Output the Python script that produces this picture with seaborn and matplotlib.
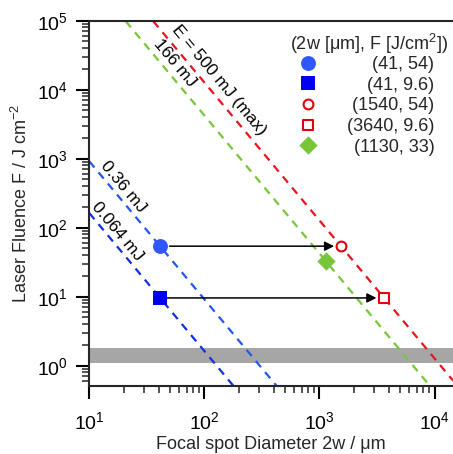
import numpy as np
import pandas as pd
import matplotlib
matplotlib.use("Agg")
import matplotlib.pyplot as plt
import seaborn as sns

# ---------------- data ----------------
energies_mJ = [500, 166, 0.36, 0.064]
energy_labels = ["E = 500 mJ (max)", "166 mJ", "0.36 mJ", "0.064 mJ"]
line_colors = ["#e8141c", "#77c63a", "#2457f0", "#1030e0"]

point_d = [41, 41, 1540, 3640, 1130]
point_F = [54, 9.6, 54, 9.6, 33]
point_labels = ["(41, 54)", "(41, 9.6)", "(1540, 54)", "(3640, 9.6)", "(1130, 33)"]
point_markers = ["o", "s", "o", "s", "D"]
point_face = ["#3057ff", "#0000f0", "white", "white", "#77c63a"]
point_edge = ["#3057ff", "#0000f0", "#e00010", "#e00010", "#77c63a"]
point_sizes = [115, 92, 50, 56, 88]
point_lw = [0, 0, 1.5, 1.5, 0]

arrow_from = [0, 1]
arrow_to = [2, 3]

band_F = [1.1, 1.8]

x_range = [10, 14450]
y_range = [0.513, 1e5]


def fluence(E_mJ, d_um):
    d_cm = np.asarray(d_um, dtype=float) * 1e-4
    return 8 * (E_mJ * 1e-3) / (np.pi * d_cm ** 2)


# ---------------- style ----------------
sns.set_theme(style="ticks")
plt.rcParams["font.family"] = ["Liberation Sans", "DejaVu Sans"]
plt.rcParams["mathtext.fontset"] = "custom"
plt.rcParams["mathtext.rm"] = "Liberation Sans"
plt.rcParams["mathtext.it"] = "Liberation Sans:italic"
plt.rcParams["axes.linewidth"] = 1.5

fig = plt.figure(figsize=(4.53, 4.54), dpi=100)
ax = fig.add_axes([0.1971, 0.1504, 0.8029, 0.8040])
ax.set_xscale("log")
ax.set_yscale("log")
ax.set_xlim(*x_range)
ax.set_ylim(*y_range)

# gray band
ax.axhspan(band_F[0], band_F[1], color="#a6a6a6", lw=0, zorder=1)

# energy lines
for E, c in zip(energies_mJ, line_colors):
    df = pd.DataFrame({"d": x_range, "F": fluence(E, x_range)})
    sns.lineplot(data=df, x="d", y="F", ax=ax, color=c, lw=1.6,
                 linestyle=(0, (3.6, 2.9)), zorder=2, legend=False)

# arrows
for i, j in zip(arrow_from, arrow_to):
    shrinkA = 7.0 if point_markers[i] == "o" else 5.0
    shrinkB = 5.0 if point_markers[j] == "o" else 5.5
    ax.annotate("", xy=(point_d[j], point_F[j]), xytext=(point_d[i], point_F[i]),
                arrowprops=dict(arrowstyle="-|>", color="black", lw=1.1,
                                mutation_scale=14, shrinkA=shrinkA, shrinkB=shrinkB),
                zorder=3)

# markers
for d, F, lab, m, fc, ec, s, lw in zip(point_d, point_F, point_labels, point_markers,
                                       point_face, point_edge, point_sizes, point_lw):
    sns.scatterplot(x=[d], y=[F], ax=ax, marker=m, s=s, color=fc, edgecolor=ec,
                    linewidth=lw, label=lab, zorder=5)

# line labels
text_pos = [(134, 13830), (55.6, 24400), (19.6, 389), (17.4, 89.5)]
for E, lab, (tx, ty) in zip(energies_mJ, energy_labels, text_pos):
    p1 = ax.transData.transform((100, fluence(E, 100)))
    p2 = ax.transData.transform((1000, fluence(E, 1000)))
    ang = np.degrees(np.arctan2(p2[1] - p1[1], p2[0] - p1[0]))
    ax.text(tx, ty, lab, rotation=ang, ha="center", va="center",
            rotation_mode="anchor", fontsize=12.5, color="black")

# axes styling
ax.spines["right"].set_visible(False)
ax.spines["top"].set_visible(True)
ax.tick_params(which="major", direction="out", length=9.5, width=1.5,
               labelsize=14, colors="black", top=False, right=False)
ax.tick_params(which="minor", direction="out", length=5, width=1.1,
               top=False, right=False)
ax.tick_params(axis="x", which="major", pad=9)
ax.tick_params(axis="y", which="major", pad=6)

ax.set_xlabel("Focal spot Diameter 2w / μm", fontsize=13, labelpad=2)
ax.set_ylabel(r"Laser Fluence F / J cm$^{\mathregular{-2}}$", fontsize=13, labelpad=4)

leg = ax.legend(title=r"(2w [μm], F [J/cm$^{\mathregular{2}}$])", frameon=False,
                loc="upper left", bbox_to_anchor=(0.552, 0.969), borderpad=0,
                borderaxespad=0, fontsize=13, title_fontsize=13, handlelength=0.5,
                handletextpad=1.9, labelspacing=0.2, scatterpoints=1,
                scatteryoffsets=[0.5])
leg._legend_box.sep = 0

fig.canvas.draw()
r = fig.canvas.get_renderer()
texts = leg.get_texts()
ws = [t.get_window_extent(r).width for t in texts]
W = max(ws)
for t, w in zip(texts, ws):
    t.set_x(W - w)

fig.savefig("out.png", dpi=100)
